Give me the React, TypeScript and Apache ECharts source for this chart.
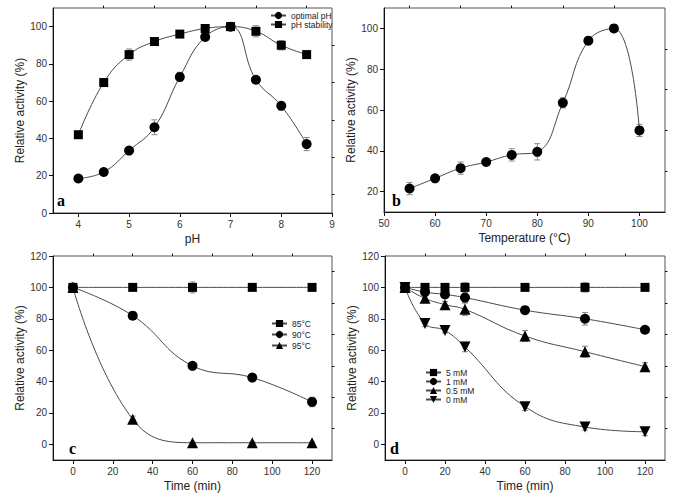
import React, { useEffect, useRef } from "react";
import * as echarts from "echarts";

// Panel a: pH
const PH = [4, 4.5, 5, 5.5, 6, 6.5, 7, 7.5, 8, 8.5];
const OPT_PH = [18.5, 22, 33.5, 46, 73, 94.5, 100, 71.5, 57.5, 37];
const OPT_PH_ERR = [1.5, 1, 1, 4, 2.5, 1.5, 1, 1, 2, 3.5];
const STAB_PH = [42, 70, 85, 92, 96, 99, 100, 97.5, 90, 85];
const STAB_PH_ERR = [1, 1, 3, 2, 1, 1, 1, 3, 2.5, 2];

// Panel b: temperature
const TEMP = [55, 60, 65, 70, 75, 80, 85, 90, 95, 100];
const OPT_TEMP = [21.5, 26.5, 31.5, 34.5, 38, 39.5, 63.5, 94, 100, 50];
const OPT_TEMP_ERR = [3, 1.5, 3, 1.5, 3, 4, 2.5, 1, 1, 3];

// Panel c: thermostability
const TIME_C = [0, 30, 60, 90, 120];
const T85 = [100, 100, 100, 100, 100];
const T85_ERR = [1, 1.5, 3.5, 1.5, 1.5];
const T90 = [100, 82, 50, 42.5, 27];
const T90_ERR = [1, 2, 1, 1, 3];
const T95 = [100, 16, 1, 1, 1];
const T95_ERR = [1, 2, 0.5, 0.5, 0.5];

// Panel d: Ca concentration
const TIME_D = [0, 10, 20, 30, 60, 90, 120];
const MM5 = [100, 100, 100, 100, 100, 100, 100];
const MM5_ERR = [1, 2, 2, 3, 1, 3, 1];
const MM1 = [100, 97, 95.5, 93.5, 85.5, 80, 73];
const MM1_ERR = [1, 2, 2, 3, 1.5, 4, 1];
const MM05 = [100, 93, 89, 86, 69, 59, 49.5];
const MM05_ERR = [1, 2.5, 2, 4, 3.5, 3.5, 2.5];
const MM0 = [100, 77, 72.5, 62, 24, 11, 8];
const MM0_ERR = [1, 2, 1.5, 3, 2.5, 2, 2.5];

// Tick values
const A_X_MAJOR = [4, 5, 6, 7, 8, 9];
const A_X_MINOR = [4.5, 5.5, 6.5, 7.5, 8.5];
const A_Y_MAJOR = [0, 20, 40, 60, 80, 100];
const A_Y_MINOR = [10, 30, 50, 70, 90];
const B_X_MAJOR = [50, 60, 70, 80, 90, 100];
const B_X_MINOR = [55, 65, 75, 85, 95];
const B_Y_MAJOR = [20, 40, 60, 80, 100];
const B_Y_MINOR = [30, 50, 70, 90];
const T_X_MAJOR = [0, 20, 40, 60, 80, 100, 120];
const T_X_MINOR = [10, 30, 50, 70, 90, 110];
const T_Y_MAJOR = [0, 20, 40, 60, 80, 100, 120];
const T_Y_MINOR = [10, 30, 50, 70, 90, 110];

const FONT = "Liberation Sans, Arial, sans-serif";
const LINE_COLOR = "#4a4a4a";
const ERR_COLOR = "#8a8a8a";

function mainAxis(gridIndex: number, min: number, max: number, values: number[], name: string, nameGap: number) {
  return {
    type: "value",
    gridIndex,
    min,
    max,
    name,
    nameLocation: "middle",
    nameGap,
    nameTextStyle: { fontFamily: FONT, fontSize: 12, color: "#222" },
    axisLine: { show: true, onZero: false, lineStyle: { color: "#111", width: 1 } },
    axisTick: { show: true, inside: false, length: 4, customValues: values, lineStyle: { color: "#111" } },
    axisLabel: { show: true, customValues: values, margin: 6, fontFamily: FONT, fontSize: 10, color: "#333" },
    splitLine: { show: false },
  };
}

function minorAxis(gridIndex: number, min: number, max: number, values: number[]) {
  return {
    type: "value",
    gridIndex,
    min,
    max,
    axisLine: { show: false, onZero: false },
    axisTick: { show: true, inside: false, length: 2.5, customValues: values, lineStyle: { color: "#111" } },
    axisLabel: { show: false, customValues: values },
    splitLine: { show: false },
  };
}

function lineSeries(name: string, xs: number[], ys: number[], idx: number, symbol: string, rotate = 0) {
  return {
    type: "line",
    name,
    xAxisIndex: idx * 2,
    yAxisIndex: idx * 2,
    data: xs.map((x, i) => [x, ys[i]]),
    smooth: 0.45,
    symbol,
    symbolRotate: rotate,
    symbolSize: symbol === "circle" ? 10 : symbol === "rect" ? 9 : 11,
    showSymbol: true,
    itemStyle: { color: "#000" },
    lineStyle: { color: LINE_COLOR, width: 1 },
    z: 3,
  };
}

function errSeries(name: string, xs: number[], ys: number[], errs: number[], idx: number) {
  return {
    type: "custom",
    name: name + " err",
    xAxisIndex: idx * 2,
    yAxisIndex: idx * 2,
    silent: true,
    z: 2,
    encode: { x: 0, y: 1 },
    data: xs.map((x, i) => [x, ys[i], errs[i]]),
    renderItem: (params: any, api: any) => {
      const x = api.value(0);
      const y = api.value(1);
      const e = api.value(2);
      const top = api.coord([x, y + e]);
      const bot = api.coord([x, y - e]);
      const hw = 3;
      const style = { stroke: ERR_COLOR, lineWidth: 1 };
      return {
        type: "group",
        children: [
          { type: "line", shape: { x1: top[0], y1: top[1], x2: bot[0], y2: bot[1] }, style },
          { type: "line", shape: { x1: top[0] - hw, y1: top[1], x2: top[0] + hw, y2: top[1] }, style },
          { type: "line", shape: { x1: bot[0] - hw, y1: bot[1], x2: bot[0] + hw, y2: bot[1] }, style },
        ],
      };
    },
  };
}

function legend(names: string[], left: number, top: number, gap: number) {
  return {
    data: names,
    orient: "vertical",
    left,
    top,
    padding: 0,
    itemGap: gap,
    itemWidth: 15,
    itemHeight: 9,
    textStyle: { fontFamily: FONT, fontSize: 8.5, color: "#222" },
    selectedMode: false,
  };
}

export default function App() {
  const ref = useRef<HTMLDivElement>(null);
  useEffect(() => {
    if (!ref.current) return;
    const chart = echarts.init(ref.current, undefined, { renderer: "svg" });
    const gridBase = { show: true, borderColor: "#555", borderWidth: 1, backgroundColor: "transparent", containLabel: false };
    const option: any = {
      animation: false,
      backgroundColor: "#fff",
      grid: [
        { ...gridBase, left: 53, top: 8, width: 279, height: 205 },
        { ...gridBase, left: 384, top: 8, width: 281, height: 204 },
        { ...gridBase, left: 53, top: 256, width: 279, height: 204 },
        { ...gridBase, left: 385, top: 256, width: 280, height: 204 },
      ],
      xAxis: [
        mainAxis(0, 3.5, 9, A_X_MAJOR, "pH", 20),
        minorAxis(0, 3.5, 9, A_X_MINOR),
        mainAxis(1, 50, 105, B_X_MAJOR, "Temperature (°C)", 20),
        minorAxis(1, 50, 105, B_X_MINOR),
        mainAxis(2, -10, 130, T_X_MAJOR, "Time (min)", 20),
        minorAxis(2, -10, 130, T_X_MINOR),
        mainAxis(3, -10, 130, T_X_MAJOR, "Time (min)", 20),
        minorAxis(3, -10, 130, T_X_MINOR),
      ],
      yAxis: [
        mainAxis(0, 0, 110, A_Y_MAJOR, "Relative activity (%)", 25),
        minorAxis(0, 0, 110, A_Y_MINOR),
        mainAxis(1, 10, 110, B_Y_MAJOR, "Relative activity (%)", 23),
        minorAxis(1, 10, 110, B_Y_MINOR),
        mainAxis(2, -10, 120, T_Y_MAJOR, "Relative activity (%)", 25),
        minorAxis(2, -10, 120, T_Y_MINOR),
        mainAxis(3, -10, 120, T_Y_MAJOR, "Relative activity (%)", 25),
        minorAxis(3, -10, 120, T_Y_MINOR),
      ],
      legend: [
        legend(["optimal pH", "pH stability"], 270, 11, 0),
        legend(["85°C", "90°C", "95°C"], 271, 319, 2),
        legend(["5 mM", "1 mM", "0.5 mM", "0 mM"], 425, 368, 0),
      ],
      graphic: [
        { type: "text", left: 57, top: 192, style: { text: "a", font: "bold 16px 'Liberation Serif', 'Times New Roman', serif", fill: "#000" } },
        { type: "text", left: 392, top: 192, style: { text: "b", font: "bold 16px 'Liberation Serif', 'Times New Roman', serif", fill: "#000" } },
        { type: "text", left: 69, top: 440, style: { text: "c", font: "bold 16px 'Liberation Serif', 'Times New Roman', serif", fill: "#000" } },
        { type: "text", left: 390, top: 440, style: { text: "d", font: "bold 16px 'Liberation Serif', 'Times New Roman', serif", fill: "#000" } },
      ],
      series: [
        errSeries("optimal pH", PH, OPT_PH, OPT_PH_ERR, 0),
        errSeries("pH stability", PH, STAB_PH, STAB_PH_ERR, 0),
        lineSeries("optimal pH", PH, OPT_PH, 0, "circle"),
        lineSeries("pH stability", PH, STAB_PH, 0, "rect"),

        errSeries("temp", TEMP, OPT_TEMP, OPT_TEMP_ERR, 1),
        lineSeries("optimal temperature", TEMP, OPT_TEMP, 1, "circle"),

        errSeries("85°C", TIME_C, T85, T85_ERR, 2),
        errSeries("90°C", TIME_C, T90, T90_ERR, 2),
        errSeries("95°C", TIME_C, T95, T95_ERR, 2),
        lineSeries("85°C", TIME_C, T85, 2, "rect"),
        lineSeries("90°C", TIME_C, T90, 2, "circle"),
        lineSeries("95°C", TIME_C, T95, 2, "triangle"),

        errSeries("5 mM", TIME_D, MM5, MM5_ERR, 3),
        errSeries("1 mM", TIME_D, MM1, MM1_ERR, 3),
        errSeries("0.5 mM", TIME_D, MM05, MM05_ERR, 3),
        errSeries("0 mM", TIME_D, MM0, MM0_ERR, 3),
        lineSeries("5 mM", TIME_D, MM5, 3, "rect"),
        lineSeries("1 mM", TIME_D, MM1, 3, "circle"),
        lineSeries("0.5 mM", TIME_D, MM05, 3, "triangle"),
        lineSeries("0 mM", TIME_D, MM0, 3, "triangle", 180),
      ],
    };
    chart.setOption(option);
    return () => chart.dispose();
  }, []);
  return <div ref={ref} style={{ position: "fixed", left: 0, top: 0, width: 685, height: 504, background: "#fff" }} />;
}
